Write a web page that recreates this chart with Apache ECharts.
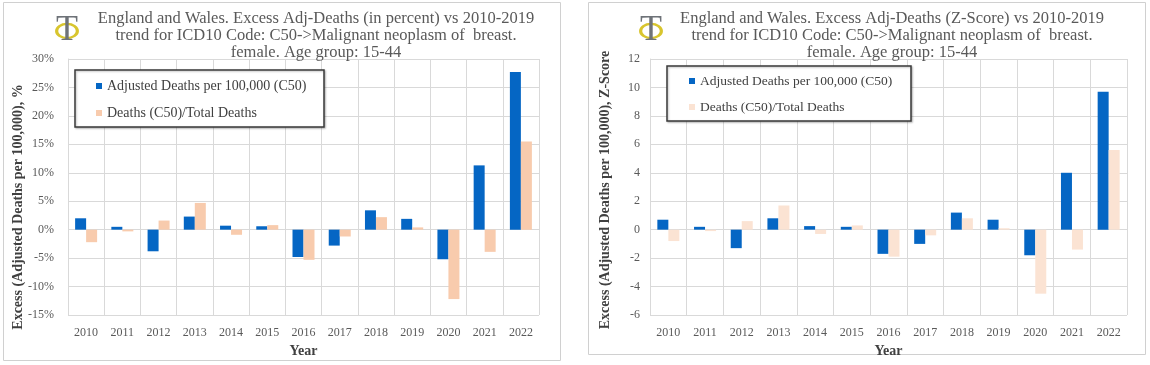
<!DOCTYPE html>
<html>
<head>
<meta charset="utf-8">
<script src="https://cdn.jsdelivr.net/npm/echarts@6/dist/echarts.min.js"></script>
<style>
html,body{margin:0;padding:0;background:#fff;}
#c{width:1150px;height:365px;}
</style>
</head>
<body>
<div id="c"></div>
<script>
var years = ['2010','2011','2012','2013','2014','2015','2016','2017','2018','2019','2020','2021','2022'];
var seriesNames = ['Adjusted Deaths per 100,000 (C50)', 'Deaths (C50)/Total Deaths'];
// Left chart: excess in percent
var pctAdjusted = [2.0, 0.5, -3.8, 2.3, 0.7, 0.6, -4.8, -2.8, 3.4, 1.9, -5.2, 11.3, 27.7];
var pctRatio    = [-2.2, -0.3, 1.6, 4.7, -0.9, 0.8, -5.3, -1.2, 2.2, 0.4, -12.2, -3.9, 15.5];
// Right chart: Z-score
var zAdjusted = [0.7, 0.2, -1.3, 0.8, 0.25, 0.2, -1.7, -1.0, 1.2, 0.7, -1.8, 4.0, 9.7];
var zRatio    = [-0.8, -0.1, 0.6, 1.7, -0.3, 0.3, -1.9, -0.4, 0.8, 0.1, -4.5, -1.4, 5.6];

var titleLeft = 'England and Wales. Excess Adj-Deaths (in percent) vs 2010-2019\ntrend for ICD10 Code: C50->Malignant neoplasm of  breast.\nfemale. Age group: 15-44';
var titleRight = 'England and Wales. Excess Adj-Deaths (Z-Score) vs 2010-2019\ntrend for ICD10 Code: C50->Malignant neoplasm of  breast.\nfemale. Age group: 15-44';
var yNameLeft = 'Excess (Adjusted Deaths per 100,000), %';
var yNameRight = 'Excess (Adjusted Deaths per 100,000), Z-Score';

var FONT = '"Liberation Serif", "DejaVu Serif", serif';
var BLUE = '#0566C4';
var PEACH = '#F8CBAD';
var PEACH_LIGHT = '#FBE3D3';
var GRID = '#D9D9D9';
var TXT = '#595959';

function xAxisCfg(gi) {
  return {
    type: 'category', gridIndex: gi, data: years,
    name: 'Year', nameLocation: 'middle', nameGap: 27,
    nameTextStyle: {fontFamily: FONT, fontSize: 14, color: '#404040', fontWeight: 'bold'},
    axisLine: {show: false, onZero: false},
    axisTick: {show: false},
    axisLabel: {fontFamily: FONT, fontSize: 12, color: TXT, margin: 12},
    splitLine: {show: true, lineStyle: {color: GRID, width: 1}}
  };
}
function yAxisCfg(gi, min, max, interval, fmt, margin) {
  return {
    type: 'value', gridIndex: gi, min: min, max: max, interval: interval,
    axisLine: {show: true, lineStyle: {color: GRID}},
    axisTick: {show: false},
    axisLabel: {fontFamily: FONT, fontSize: 12, color: TXT, margin: margin, formatter: fmt},
    splitLine: {show: true, lineStyle: {color: GRID, width: 1}}
  };
}
function barSeries(name, data, color, xi) {
  return {
    type: 'bar', name: name, data: data, xAxisIndex: xi, yAxisIndex: xi,
    barWidth: 11, barGap: '0%',
    itemStyle: {color: color},
    emphasis: {disabled: true}
  };
}
function logo(cx) {
  return [
    {type: 'circle', shape: {cx: 0, cy: 0, r: 8.5}, x: cx, y: 31, scaleX: 1.22, scaleY: 0.84, z: 10,
     style: {fill: 'none', stroke: '#D8C52E', lineWidth: 2.6}},
    {type: 'text', x: cx, y: 13, z: 11,
     style: {text: 'T', fontFamily: FONT, fontSize: 36, fill: '#6E7278', align: 'center', verticalAlign: 'top'}}
  ];
}
function yName(text, cx, cy) {
  return {type: 'text', x: cx, y: cy, rotation: Math.PI / 2, z: 10,
    style: {text: text, fontFamily: FONT, fontSize: 14, fontWeight: 'bold', fill: '#404040',
            align: 'center', verticalAlign: 'middle'}};
}

var chart = echarts.init(document.getElementById('c'), null, {renderer: 'canvas'});
chart.setOption({
  animation: false,
  backgroundColor: '#fff',
  title: [
    {text: titleLeft, left: 311, top: 5, textAlign: 'center',
     textStyle: {fontFamily: FONT, fontSize: 16.5, fontWeight: 'normal', color: TXT, lineHeight: 17}},
    {text: titleRight, left: 887, top: 5, textAlign: 'center',
     textStyle: {fontFamily: FONT, fontSize: 16.5, fontWeight: 'normal', color: TXT, lineHeight: 17}}
  ],
  grid: [
    {left: 68, top: 59, width: 471, height: 256},
    {left: 650, top: 59, width: 477, height: 256}
  ],
  xAxis: [xAxisCfg(0), xAxisCfg(1)],
  yAxis: [
    yAxisCfg(0, -15, 30, 5, '{value}%', 14),
    yAxisCfg(1, -6, 12, 2, '{value}', 10)
  ],
  legend: [
    {orient: 'vertical', left: 91, top: 74, itemWidth: 6, itemHeight: 6, itemGap: 13, z: 20,
     icon: 'rect', selectedMode: false,
     textStyle: {fontFamily: FONT, fontSize: 14, color: '#404040'},
     data: [{name: seriesNames[0], itemStyle: {color: BLUE}}, {name: seriesNames[1], itemStyle: {color: PEACH}}]},
    {orient: 'vertical', left: 684, top: 69, itemWidth: 6, itemHeight: 6, itemGap: 12, z: 20,
     icon: 'rect', selectedMode: false,
     textStyle: {fontFamily: FONT, fontSize: 13.5, color: '#404040'},
     data: [{name: seriesNames[0], itemStyle: {color: BLUE}}, {name: seriesNames[1], itemStyle: {color: PEACH_LIGHT}}]}
  ],
  graphic: [
    {type: 'rect', shape: {x: 3.5, y: 2.5, width: 557, height: 358}, z: -1,
     style: {fill: 'none', stroke: '#D0D0D0', lineWidth: 1}},
    {type: 'rect', shape: {x: 588.5, y: 2.5, width: 557, height: 352}, z: -1,
     style: {fill: 'none', stroke: '#D0D0D0', lineWidth: 1}},
    {type: 'rect', shape: {x: 75, y: 70, width: 249, height: 57}, z: 5,
     style: {fill: '#fff', stroke: '#3A3A3A', lineWidth: 1.5, shadowBlur: 2, shadowColor: 'rgba(0,0,0,0.25)', shadowOffsetX: 1, shadowOffsetY: 1}},
    {type: 'rect', shape: {x: 667, y: 66, width: 244, height: 55}, z: 5,
     style: {fill: '#fff', stroke: '#3A3A3A', lineWidth: 1.5, shadowBlur: 2, shadowColor: 'rgba(0,0,0,0.25)', shadowOffsetX: 1, shadowOffsetY: 1}},
    yName(yNameLeft, 18, 207),
    yName(yNameRight, 605, 190)
  ].concat(logo(67), logo(651)),
  series: [
    barSeries(seriesNames[0], pctAdjusted, BLUE, 0),
    barSeries(seriesNames[1], pctRatio, PEACH, 0),
    barSeries(seriesNames[0], zAdjusted, BLUE, 1),
    barSeries(seriesNames[1], zRatio, PEACH_LIGHT, 1)
  ]
});
</script>
</body>
</html>
